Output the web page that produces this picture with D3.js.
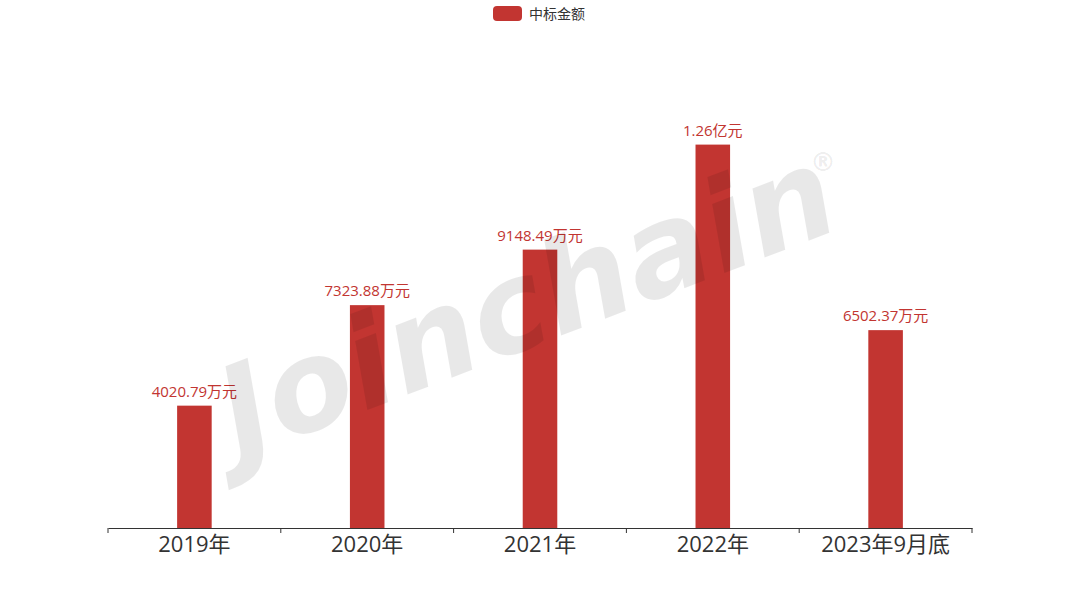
<!DOCTYPE html>
<html><head><meta charset="utf-8">
<script src="https://cdn.jsdelivr.net/npm/d3@7"></script>
<style>body{margin:0;background:#fff;}svg{display:block;}</style>
</head><body>
<svg id="c" width="1080" height="600"></svg>
<script>
const categories = ["2019年","2020年","2021年","2022年","2023年9月底"];
const values = [4020.79, 7323.88, 9148.49, 12600, 6502.37];
const labels = ["4020.79万元","7323.88万元","9148.49万元","1.26亿元","6502.37万元"];
const legendName = "中标金额";

const svg = d3.select("#c");
const font = "'Open Sans', 'Noto Sans CJK SC', sans-serif";
const red = "#c23531";

const x = d3.scaleBand().domain(categories).range([108, 972]);
const y = d3.scaleLinear().domain([0, 14000]).range([528, 102]);
const bw = x.bandwidth() * 0.2;

svg.append("g").selectAll("rect").data(values).join("rect")
  .attr("x", (d,i) => x(categories[i]) + x.bandwidth()/2 - bw/2)
  .attr("y", d => y(d))
  .attr("width", bw)
  .attr("height", d => y(0) - y(d))
  .attr("fill", red);

svg.append("g").selectAll("text").data(values).join("text")
  .attr("x", (d,i) => x(categories[i]) + x.bandwidth()/2)
  .attr("y", d => y(d) - 9)
  .attr("text-anchor", "middle")
  .attr("font-family", font)
  .attr("font-size", 15)
  .attr("fill", red)
  .text((d,i) => labels[i]);

// x axis
const ax = svg.append("g").attr("transform", "translate(0,528)")
  .call(d3.axisBottom(x).tickSize(0).tickPadding(8));
ax.select(".domain").attr("stroke", "#333").attr("stroke-width", 1);
ax.selectAll("text").attr("font-family", font).attr("font-size", 22).attr("fill", "#333");
// boundary ticks
const bounds = categories.map(c => x(c)).concat([x.range()[1]]);
ax.selectAll("line.b").data(bounds).join("line").attr("class","b")
  .attr("x1", d => d).attr("x2", d => d).attr("y1", 0).attr("y2", 5)
  .attr("stroke", "#333");

// legend
const lg = svg.append("g");
lg.append("rect").attr("x", 493).attr("y", 6).attr("width", 29).attr("height", 15).attr("rx", 4).attr("fill", red);
lg.append("text").attr("x", 529).attr("y", 19).attr("font-family", "'Noto Sans CJK SC', sans-serif").attr("font-size", 14).attr("fill", "#333").text(legendName);

// watermark
const wm = svg.append("g").attr("transform", "translate(542,343) rotate(-21)");
wm.append("text").attr("text-anchor", "middle")
  .attr("font-family", "'DejaVu Sans', sans-serif").attr("font-weight", "bold").attr("font-style", "italic")
  .attr("font-size", 126).attr("fill", "rgba(0,0,0,0.09)").text("Joinchain");
svg.append("text").attr("x", 823).attr("y", 171).attr("text-anchor", "middle")
  .attr("font-family", "'DejaVu Sans', sans-serif").attr("font-weight", "bold").attr("font-size", 26).attr("fill", "rgba(0,0,0,0.08)").text("®");
</script>
</body></html>
